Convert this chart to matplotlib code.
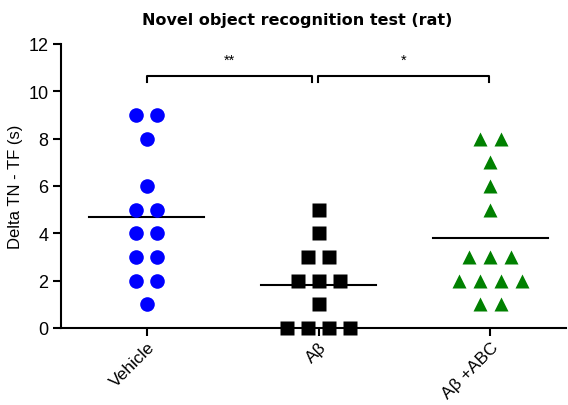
import numpy as np
import matplotlib
matplotlib.use("Agg")
import matplotlib.pyplot as plt

plt.rcParams["font.family"] = ["Liberation Sans", "DejaVu Sans"]

groups = ["Vehicle", "Aβ", "Aβ +ABC"]
vehicle = [9, 9, 8, 6, 5, 5, 4, 4, 3, 3, 2, 2, 1]
abeta = [5, 4, 3, 3, 2, 2, 2, 1, 0, 0, 0, 0]
abeta_abc = [8, 8, 7, 6, 5, 3, 3, 3, 2, 2, 2, 2, 1, 1]
series = [vehicle, abeta, abeta_abc]
markers = ["o", "s", "^"]
colors = ["#0000ff", "#000000", "#008000"]

# significance brackets: (from group, to group, label)
brackets = [(0, 0.96, "**"), (0.995, 1.99, "*")]

fig = plt.figure(figsize=(5.68, 4.06), dpi=100)
ax = fig.add_axes([61 / 568, 1 - 329 / 406, 505 / 568, 284 / 406])

spacing = 0.122
for i, vals in enumerate(series):
    vals = np.array(vals)
    for v in np.unique(vals):
        n = np.sum(vals == v)
        xs = i + (np.arange(n) - (n - 1) / 2) * spacing
        ax.plot(xs, [v] * n, linestyle="none", marker=markers[i], ms=10.5,
                color=colors[i], mec="none", clip_on=False, zorder=3)
    m = vals.mean()
    ax.plot([i - 0.335, i + 0.335], [m, m], color="black", lw=1.5, zorder=2)

for x0, x1, lab in brackets:
    ax.plot([x0, x0, x1, x1], [10.4, 10.65, 10.65, 10.4], color="black",
            lw=1.5, clip_on=False)
    ax.text((x0 + x1) / 2, 11.05, lab, ha="center", va="bottom", fontsize=10.5)

ax.set_xlim(-0.5, 2.44)
ax.set_ylim(0, 12)
ax.set_yticks(range(0, 13, 2))
ax.set_xticks(range(3))
ax.set_xticklabels(groups, rotation=45, ha="right", rotation_mode="anchor")
ax.tick_params(labelsize=13, width=1.5, length=6, direction="out", pad=3)
ax.tick_params(axis="x", labelsize=12.5, pad=2)
for side in ["top", "right"]:
    ax.spines[side].set_visible(False)
for side in ["left", "bottom"]:
    ax.spines[side].set_linewidth(1.5)

ax.set_ylabel("Delta TN - TF (s)", fontsize=12)
ax.yaxis.set_label_coords(-0.075, 0.5)

fig.text(297 / 568, 1 - 20 / 406, "Novel object recognition test (rat)",
         ha="center", va="center", fontsize=11.5, fontweight="bold",
         family="DejaVu Sans")

fig.savefig("out.png", dpi=100)
